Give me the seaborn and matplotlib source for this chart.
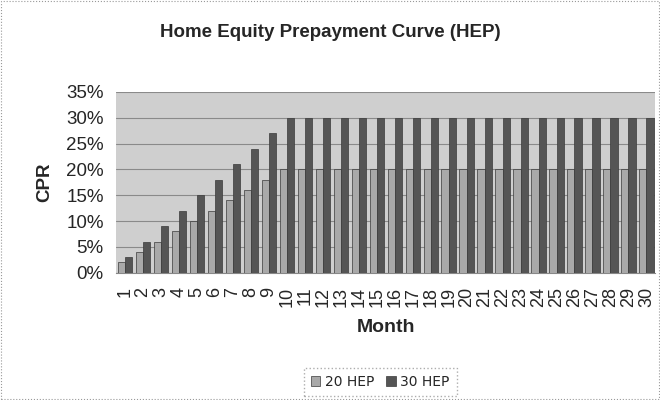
import numpy as np
import pandas as pd
import matplotlib
matplotlib.use('Agg')
import matplotlib.pyplot as plt
import seaborn as sns
from matplotlib.ticker import PercentFormatter

months = list(range(1, 31))
hep20 = [2, 4, 6, 8, 10, 12, 14, 16, 18, 20] + [20] * 20
hep30 = [3, 6, 9, 12, 15, 18, 21, 24, 27, 30] + [30] * 20
series = ['20 HEP', '30 HEP']

df = pd.DataFrame({
    'Month': months * 2,
    'CPR': hep20 + hep30,
    'Series': [series[0]] * 30 + [series[1]] * 30,
})

sns.set_style('white')
plt.rcParams['font.family'] = ['Liberation Sans', 'DejaVu Sans']

fig = plt.figure(figsize=(6.6, 4.0), dpi=100)
ax = fig.add_axes([0.176, 0.318, 0.817, 0.452])
ax.set_facecolor('#cfcfcf')

sns.barplot(data=df, x='Month', y='CPR', hue='Series', ax=ax,
            palette=['#a9a9a9', '#555555'], width=0.8,
            edgecolor='#3a3a3a', linewidth=0.5, zorder=3)

ax.set_ylim(0, 35)
ax.set_yticks(range(0, 36, 5))
ax.yaxis.set_major_formatter(PercentFormatter(decimals=0))
ax.grid(axis='y', color='#8a8a8a', linewidth=0.8, zorder=0)
ax.set_axisbelow(True)
ax.tick_params(axis='y', labelsize=13.5, length=0, pad=9)
ax.tick_params(axis='x', labelsize=13, rotation=90, length=3,
               pad=7, color='#888888')
for side in ['top', 'right', 'left']:
    ax.spines[side].set_visible(False)
ax.spines['bottom'].set_color('#888888')

ax.set_xlabel('Month', fontsize=14, fontweight='bold', labelpad=9)
ax.set_ylabel('CPR', fontsize=13.5, fontweight='bold', labelpad=9)
fig.suptitle('Home Equity Prepayment Curve (HEP)', fontsize=13.5,
             fontweight='bold', y=0.94)

leg = ax.legend(loc='center', bbox_to_anchor=(0.576, 0.045),
                bbox_transform=fig.transFigure, ncol=2, frameon=True,
                prop={'family': 'DejaVu Sans', 'size': 10},
                handlelength=0.7, handleheight=0.7,
                columnspacing=0.9, handletextpad=0.3, borderpad=0.5)
frame = leg.get_frame()
frame.set_edgecolor('#999999')
frame.set_linestyle(':')
frame.set_boxstyle('square', pad=0)

fig.patches.append(plt.Rectangle((0.002, 0.002), 0.996, 0.996,
                                 transform=fig.transFigure, fill=False,
                                 edgecolor='#999999', linestyle=':',
                                 linewidth=0.8))

fig.savefig('out.png', dpi=100)
